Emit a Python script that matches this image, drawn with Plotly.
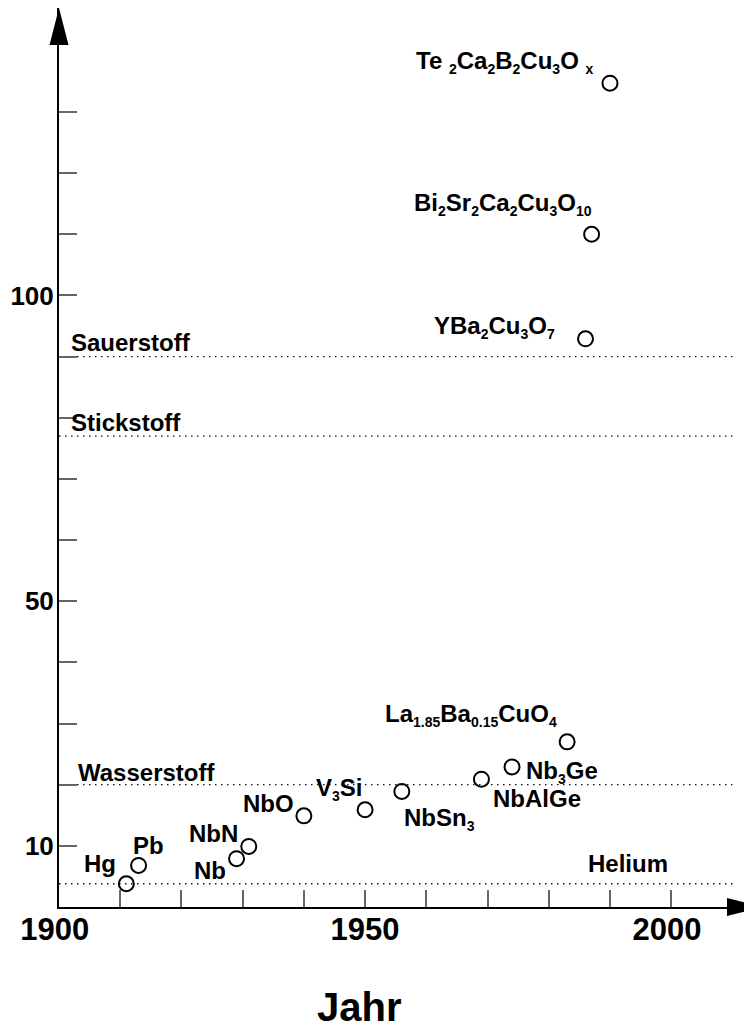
import plotly.graph_objects as go

# ---- data ----
years = [1911, 1913, 1929, 1931, 1940, 1950, 1956, 1969, 1974, 1983, 1986, 1987, 1990]
tc = [3.8, 6.8, 7.9, 9.9, 14.9, 15.9, 18.9, 20.9, 22.9, 27.0, 92.9, 110.0, 134.7]
materials = [
    "Hg", "Pb", "Nb", "NbN", "NbO", "V<sub>3</sub>Si", "NbSn<sub>3</sub>", "NbAlGe",
    "Nb<sub>3</sub>Ge", "La<sub>1.85</sub>Ba<sub>0.15</sub>CuO<sub>4</sub>",
    "YBa<sub>2</sub>Cu<sub>3</sub>O<sub>7</sub>",
    "Bi<sub>2</sub>Sr<sub>2</sub>Ca<sub>2</sub>Cu<sub>3</sub>O<sub>10</sub>",
    "Te <sub>2</sub>Ca<sub>2</sub>B<sub>2</sub>Cu<sub>3</sub>O <sub>x</sub>",
]

ref_names = ["Sauerstoff", "Stickstoff", "Wasserstoff", "Helium"]
ref_temps = [90, 77, 20, 3.8]
ref_start, ref_end = 1900, 2010

x_tickvals = list(range(1900, 2001, 10))
x_ticktext = ["1900\u00a0", "", "", "", "", "1950", "", "", "", "", "2000\u00a0"]
y_tickvals = list(range(10, 131, 10))
y_ticktext = ["10", "", "", "", "50", "", "", "", "", "100", "", "", ""]

# ---- label placement (pixel offsets from the point) ----
lab_anchor = ["right", "left", "right", "right", "right", "right", "left", "left",
              "left", "right", "right", "right", "right"]
lab_dx = [-10.7, -5.8, -10.6, -10.3, -9.7, -2.3, 2.0, 11.6, 14.3, -10.1, -30.5, -0.1, -16.5]
lab_dy = [33.5, 33.5, 1.8, 26.2, 25.5, 36.2, -12.1, -6.2, 10.1, 41.8, 27.1, 45.5, 36.1]

ref_lab_x = [1900, 1900, 1900, 2000]
ref_lab_anchor = ["left", "left", "left", "right"]
ref_lab_dx = [11.7, 11.7, 19.0, -3.5]
ref_lab_dy = [27.1, 27.3, 25.9, 33.3]

FONT = "Liberation Sans, Arial, Helvetica, sans-serif"
LABEL_SIZE = 24
SUB_SIZE = 14


def small_sub(s):
    return (s.replace("<sub>", f"<sub><span style='font-size:{SUB_SIZE}px'>")
             .replace("</sub>", "</span></sub>"))


fig = go.Figure()

for name, t in zip(ref_names, ref_temps):
    fig.add_trace(go.Scatter(
        x=[ref_start, ref_end], y=[t, t], mode="lines",
        line=dict(color="#111111", width=1.3, dash="1.5px,4.5px"),
        hoverinfo="skip", showlegend=False))

fig.add_trace(go.Scatter(
    x=years, y=tc, mode="markers",
    marker=dict(symbol="circle-open", size=15, color="black", line=dict(width=2, color="black")),
    showlegend=False, hoverinfo="skip"))

annotations = []
for x, y, txt, anc, dx, dy in zip(years, tc, materials, lab_anchor, lab_dx, lab_dy):
    annotations.append(dict(
        x=x, y=y, xref="x", yref="y", text="<b>" + small_sub(txt) + "</b>", showarrow=False,
        xanchor=anc, yanchor="top", xshift=dx, yshift=dy,
        borderpad=0, borderwidth=0,
        font=dict(family=FONT, size=LABEL_SIZE, color="black")))

for x, y, txt, anc, dx, dy in zip(ref_lab_x, ref_temps, ref_names, ref_lab_anchor, ref_lab_dx, ref_lab_dy):
    annotations.append(dict(
        x=x, y=y, xref="x", yref="y", text="<b>" + txt + "</b>", showarrow=False,
        xanchor=anc, yanchor="top", xshift=dx, yshift=dy,
        borderpad=0, borderwidth=0,
        font=dict(family=FONT, size=LABEL_SIZE, color="black")))

annotations.append(dict(
    x=0.4343, y=-0.0865, xref="paper", yref="paper", text="<b>Jahr</b>", showarrow=False,
    xanchor="center", yanchor="top", borderpad=0, borderwidth=0,
    font=dict(family=FONT, size=40, color="black")))

# page has an 8px body margin, so the figure is 8px smaller and the plot area
# starts at figure x=51, y=0 (page x=59, y=8)
W, H = 693.0, 899.0
shapes = [
    # y-axis arrow head
    dict(type="path", xref="paper", yref="paper",
         path=f"M 0 1 L {-9.5/W} {1-37/H} L {9.5/W} {1-37/H} Z",
         fillcolor="black", line=dict(width=0)),
    # x-axis arrow head
    dict(type="path", xref="paper", yref="paper",
         path=f"M {(764-59)/W} 0 L {(727-59)/W} {9/H} L {(727-59)/W} {-9/H} Z",
         fillcolor="black", line=dict(width=0)),
]

fig.update_layout(
    width=744, height=1020,
    margin=dict(l=51, r=0, t=0, b=121, autoexpand=False),
    plot_bgcolor="white", paper_bgcolor="white",
    annotations=annotations, shapes=shapes,
    xaxis=dict(range=[1900, 1900 + W / 6.122], showgrid=False, zeroline=False,
               showline=True, linecolor="black", linewidth=2,
               ticks="inside", ticklen=17, tickwidth=1.5, tickcolor="#666666",
               tickvals=x_tickvals, ticktext=x_ticktext, automargin=False,
               ticklabelstandoff=-6,
               tickfont=dict(family=FONT, size=31, color="black", weight="bold")),
    yaxis=dict(range=[0, H / 6.116], showgrid=False, zeroline=False,
               showline=True, linecolor="black", linewidth=2,
               ticks="inside", ticklen=18, tickwidth=1.5, tickcolor="#666666",
               tickvals=y_tickvals, ticktext=y_ticktext, automargin=False,
               ticklabelstandoff=-2,
               tickfont=dict(family=FONT, size=26, color="black", weight="bold")),
)

fig.write_html("out.html")
